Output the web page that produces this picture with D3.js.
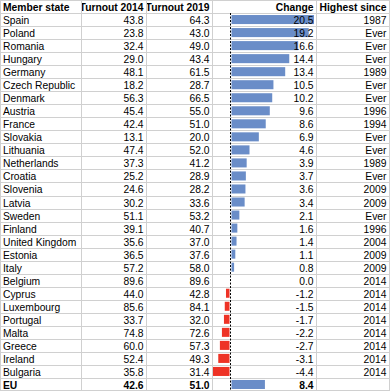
<!DOCTYPE html>
<html><head><meta charset="utf-8">
<script src="https://cdn.jsdelivr.net/npm/d3@7"></script>
<style>html,body{margin:0;padding:0;background:#fff}svg{display:block}</style>
</head><body>
<svg id="c" width="390" height="391"></svg>
<script>
const headers = ["Member state","Turnout 2014","Turnout 2019","Change","Highest since"];
const countries = ["Spain","Poland","Romania","Hungary","Germany","Czech Republic","Denmark","Austria","France","Slovakia","Lithuania","Netherlands","Croatia","Slovenia","Latvia","Sweden","Finland","United Kingdom","Estonia","Italy","Belgium","Cyprus","Luxembourg","Portugal","Malta","Greece","Ireland","Bulgaria","EU"];
const turnout2014 = [43.8,23.8,32.4,29.0,48.1,18.2,56.3,45.4,42.4,13.1,47.4,37.3,25.2,24.6,30.2,51.1,39.1,35.6,36.5,57.2,89.6,44.0,85.6,33.7,74.8,60.0,52.4,35.8,42.6];
const turnout2019 = [64.3,43.0,49.0,43.4,61.5,28.7,66.5,55.0,51.0,20.0,52.0,41.2,28.9,28.2,33.6,53.2,40.7,37.0,37.6,58.0,89.6,42.8,84.1,32.0,72.6,57.3,49.3,31.4,51.0];
const change = [20.5,19.2,16.6,14.4,13.4,10.5,10.2,9.6,8.6,6.9,4.6,3.9,3.7,3.6,3.4,2.1,1.6,1.4,1.1,0.8,0.0,-1.2,-1.5,-1.7,-2.2,-2.7,-3.1,-4.4,8.4];
const highestSince = ["1987","Ever","Ever","Ever","1989","Ever","Ever","1996","1994","Ever","Ever","1989","Ever","2009","2009","Ever","1996","2004","2009","2009","2014","2014","2014","2014","2014","2014","2014","2014",""];

const svg = d3.select("#c");
const W = 390, H = 391;
const colEdges = [0, 81, 146, 212, 316, 389];
const nRows = countries.length + 1;
const rowY = d3.scaleLinear().domain([0, nRows]).range([0, H]);
const rh = rowY(1) - rowY(0);
const font = "'Liberation Sans', Arial, sans-serif";
const gridColor = "#d0d0d0";

// data bar scale
const x = d3.scaleLinear().domain([d3.min(change), d3.max(change)]).range([213, 314]);
const zero = Math.round(x(0)) - 0.5;

// clip paths per column
const defs = svg.append("defs");
colEdges.slice(0, -1).forEach((c, i) => {
  defs.append("clipPath").attr("id", "col" + i)
    .append("rect").attr("x", c + 1).attr("y", 0).attr("width", colEdges[i+1] - c - 1).attr("height", H);
});

// bars
const bars = svg.append("g");
change.forEach((v, i) => {
  const top = rowY(i + 1);
  if (v === 0) return;
  const x0 = v > 0 ? zero + 1 : x(v);
  const x1 = v > 0 ? x(v) : zero - 1;
  bars.append("rect")
    .attr("x", x0).attr("y", top + 2)
    .attr("width", Math.max(0, x1 - x0)).attr("height", rh - 4)
    .attr("fill", v > 0 ? "#6a8dc8" : "#ee3326");
});

// grid
const grid = svg.append("g").attr("stroke", gridColor).attr("stroke-width", 1).attr("shape-rendering", "crispEdges");
for (let r = 0; r <= nRows; r++) {
  const y = Math.min(H - 1, Math.round(rowY(r))) + 0.5;
  grid.append("line").attr("x1", 0).attr("x2", colEdges[5]).attr("y1", y).attr("y2", y);
}
colEdges.forEach(c => {
  grid.append("line").attr("x1", c + 0.5).attr("x2", c + 0.5).attr("y1", 0).attr("y2", H);
});

// dashed axis
svg.append("line").attr("x1", zero).attr("x2", zero)
  .attr("y1", rowY(1)).attr("y2", H)
  .attr("stroke", "#000").attr("stroke-width", 1).attr("stroke-dasharray", "2,1.5");

// header
headers.forEach((h, i) => {
  const left = i === 0;
  svg.append("text")
    .attr("clip-path", "url(#col" + i + ")")
    .attr("x", left ? colEdges[i] + 3 : colEdges[i+1] - 2.5)
    .attr("y", rowY(0) + 11)
    .attr("text-anchor", left ? "start" : "end")
    .attr("font-family", font).attr("font-size", 10.3).attr("font-weight", "bold")
    .attr("fill", "#000").text(h);
});

// body
const g = svg.append("g").attr("font-family", font).attr("font-size", 10.3).attr("fill", "#000");
countries.forEach((c, i) => {
  const y = rowY(i + 1) + 11;
  const bold = c === "EU" ? "bold" : "normal";
  const cells = [c, turnout2014[i].toFixed(1), turnout2019[i].toFixed(1), change[i].toFixed(1), highestSince[i]];
  cells.forEach((t, j) => {
    const left = j === 0;
    g.append("text")
      .attr("x", left ? colEdges[j] + 3 : colEdges[j+1] - 2.5)
      .attr("y", y)
      .attr("text-anchor", left ? "start" : "end")
      .attr("font-weight", j === 4 ? "normal" : bold)
      .text(t);
  });
});
</script>
</body></html>
